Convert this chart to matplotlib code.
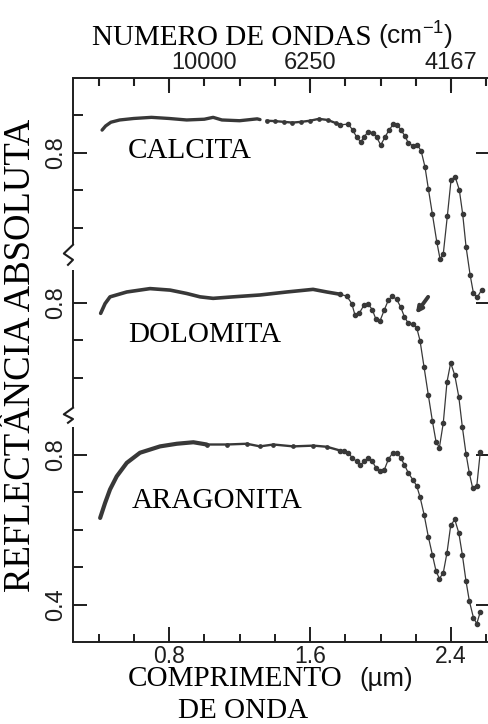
import matplotlib
matplotlib.use("Agg")
import matplotlib.pyplot as plt
from matplotlib.transforms import blended_transform_factory

plt.rcParams["mathtext.default"] = "regular"

# ---------------- data (wavelength in micrometres, absolute reflectance) ----------------
calcita_um = [0.42, 0.44, 0.47, 0.52, 0.60, 0.70, 0.80, 0.90, 1.00, 1.05, 1.10, 1.20, 1.30, 1.316,
              1.354, 1.40, 1.45, 1.50, 1.55, 1.60, 1.65, 1.70, 1.75, 1.77, 1.817, 1.842, 1.865,
              1.888, 1.906, 1.931, 1.956, 1.978, 2.001, 2.026, 2.048, 2.073, 2.095, 2.116, 2.139,
              2.158, 2.186, 2.209, 2.230, 2.252, 2.271, 2.294, 2.319, 2.338, 2.356, 2.379, 2.400,
              2.423, 2.447, 2.466, 2.485, 2.508, 2.527, 2.549, 2.574]
calcita_r = [0.861, 0.872, 0.882, 0.888, 0.892, 0.895, 0.892, 0.888, 0.890, 0.895, 0.888, 0.886, 0.891, 0.889,
             0.886, 0.885, 0.883, 0.881, 0.883, 0.886, 0.891, 0.888, 0.879, 0.875, 0.877, 0.861, 0.842,
             0.829, 0.843, 0.857, 0.854, 0.842, 0.821, 0.843, 0.861, 0.877, 0.875, 0.861, 0.845,
             0.826, 0.819, 0.821, 0.806, 0.763, 0.705, 0.637, 0.563, 0.516, 0.531, 0.632, 0.728,
             0.737, 0.701, 0.637, 0.550, 0.475, 0.426, 0.415, 0.435]

dolomita_um = [0.412, 0.437, 0.465, 0.56, 0.692, 0.806, 0.90, 0.976, 1.05, 1.163, 1.316, 1.468, 1.617,
               1.695, 1.770, 1.808, 1.837, 1.855, 1.880, 1.906, 1.931, 1.953, 1.974, 1.997, 2.022,
               2.044, 2.067, 2.092, 2.115, 2.135, 2.158, 2.183, 2.205, 2.224, 2.247, 2.271, 2.294,
               2.315, 2.334, 2.356, 2.377, 2.398, 2.421, 2.444, 2.464, 2.485, 2.504, 2.523, 2.546, 2.566]
dolomita_r = [0.772, 0.798, 0.816, 0.829, 0.838, 0.834, 0.825, 0.816, 0.812, 0.816, 0.821, 0.829, 0.836,
              0.829, 0.823, 0.818, 0.798, 0.767, 0.773, 0.794, 0.796, 0.782, 0.756, 0.752, 0.782,
              0.807, 0.818, 0.809, 0.788, 0.763, 0.745, 0.743, 0.734, 0.699, 0.628, 0.554, 0.485,
              0.429, 0.414, 0.480, 0.589, 0.640, 0.607, 0.549, 0.469, 0.397, 0.345, 0.305, 0.311, 0.403]

aragonita_um = [0.409, 0.437, 0.465, 0.503, 0.56, 0.635, 0.749, 0.844, 0.938, 1.014, 1.127, 1.241, 1.316,
                1.392, 1.505, 1.619, 1.695, 1.770, 1.793, 1.817, 1.840, 1.865, 1.884, 1.906, 1.931,
                1.953, 1.974, 1.997, 2.020, 2.044, 2.069, 2.092, 2.115, 2.135, 2.158, 2.183, 2.205,
                2.224, 2.247, 2.271, 2.294, 2.315, 2.334, 2.356, 2.377, 2.398, 2.421, 2.444, 2.464,
                2.485, 2.504, 2.527, 2.546, 2.565]
aragonita_r = [0.631, 0.671, 0.707, 0.742, 0.778, 0.805, 0.822, 0.829, 0.833, 0.827, 0.827, 0.829, 0.822,
               0.827, 0.822, 0.824, 0.821, 0.811, 0.811, 0.805, 0.791, 0.782, 0.771, 0.782, 0.791,
               0.782, 0.765, 0.755, 0.758, 0.787, 0.805, 0.805, 0.791, 0.773, 0.751, 0.733, 0.717,
               0.687, 0.640, 0.581, 0.533, 0.489, 0.469, 0.485, 0.538, 0.611, 0.627, 0.591, 0.533,
               0.462, 0.409, 0.365, 0.349, 0.379]

minerals = ["CALCITA", "DOLOMITA", "ARAGONITA"]
offsets = [0.805, 0.405, 0.0]             # vertical shift of each stacked spectrum
panel_ticks = [[0.6, 0.7, 0.8, 0.9], [0.6, 0.7, 0.8], [0.4, 0.5, 0.6, 0.7, 0.8]]
panel_labels = [{0.8: "0.8"}, {0.8: "0.8"}, {0.4: "0.4", 0.8: "0.8"}]
x_major = [0.8, 1.6, 2.4]
x_minor = [0.4, 0.6, 1.0, 1.2, 1.4, 1.8, 2.0, 2.2, 2.6]
wavenumbers = [10000, 6250, 4167]         # cm^-1
arrow_um = (2.27, 2.20)                   # dolomita arrow tail/head (x)
arrow_r = (0.816, 0.771)                  # dolomita arrow tail/head (y)

# ---------------- figure ----------------
W, H = 488, 724
fig = plt.figure(figsize=(W / 100, H / 100), dpi=100)
fig.patch.set_facecolor("white")
ax = fig.add_axes([73 / W, 1 - 642 / H, 417 / W, 564 / H])
ax.set_xlim(0.255, 2.621)
ax.set_ylim(0.30, 1.805)

ink = "#383838"
axc = "#1e1e1e"
serif = "Liberation Serif"
sans = "Liberation Sans"

series = [(calcita_um, calcita_r), (dolomita_um, dolomita_r), (aragonita_um, aragonita_r)]
thick_end = [1.32, 1.80, 1.02]     # dense scan region (drawn as a heavy trace)
medium = [(1.35, 1.78), None, (1.00, 1.78)]
dots_start = [1.76, 1.76, 1.76]
thick_w = [2.4, 2.6, 3.0]

for (xs, ys), off, te, med, ds, tw in zip(series, offsets, thick_end, medium, dots_start, thick_w):
    yy = [v + off for v in ys]
    tx = [x for x in xs if x <= te]
    ty = [y for x, y in zip(xs, yy) if x <= te]
    ax.plot(tx, ty, color=ink, lw=tw, solid_capstyle="round", solid_joinstyle="round")
    if med is not None:
        mx = [x for x in xs if med[0] <= x <= med[1]]
        my = [y for x, y in zip(xs, yy) if med[0] <= x <= med[1]]
        ax.plot(mx, my, color=ink, lw=1.7, marker="o", ms=2.4)
    dx = [x for x in xs if x >= ds]
    dy = [y for x, y in zip(xs, yy) if x >= ds]
    ax.plot(dx, dy, color=ink, lw=0.9, marker="o", ms=3.0)

# arrow on dolomita
ax.annotate("", xy=(arrow_um[1], arrow_r[1] + offsets[1]),
            xytext=(arrow_um[0], arrow_r[0] + offsets[1]),
            arrowprops=dict(arrowstyle="-|>", color=ink, lw=2.8, mutation_scale=9,
                            shrinkA=0, shrinkB=0))

# ---------------- axes styling ----------------
for s in ["top", "bottom", "right"]:
    ax.spines[s].set_linewidth(1.4)
    ax.spines[s].set_color(axc)
ax.spines["left"].set_visible(False)

ax.set_xticks(x_major)
ax.set_xticks(x_minor, minor=True)
ax.set_xticklabels([f"{v:.1f}" for v in x_major], fontsize=16.5, family=sans, color=axc)
ax.tick_params(axis="x", which="both", direction="in", top=True, bottom=True, width=1.4,
               color=axc, pad=2, labeltop=False, labelbottom=True)
ax.tick_params(axis="x", which="major", length=11)
ax.tick_params(axis="x", which="minor", length=6)

# inward tick marks hanging from the top spine (mirror of the bottom ticks)
trx = blended_transform_factory(ax.transData, ax.transAxes)
ax.vlines(x_major, 1 - 13 / 564, 1, transform=trx, colors=axc, lw=1.5, clip_on=False, zorder=5)
ax.vlines(x_minor, 1 - 8 / 564, 1, transform=trx, colors=axc, lw=1.5, clip_on=False, zorder=5)

yt_major, yt_major_lab, yt_minor = [], [], []
for ticks, labs, off in zip(panel_ticks, panel_labels, offsets):
    for t in ticks:
        if t in labs:
            yt_major.append(t + off)
            yt_major_lab.append(labs[t])
        else:
            yt_minor.append(t + off)
ax.set_yticks(yt_major)
ax.set_yticklabels(yt_major_lab, fontsize=17, family=sans, color=axc, rotation=90,
                   va="center")
ax.set_yticks(yt_minor, minor=True)
ax.tick_params(axis="y", which="both", direction="in", left=True, right=True, width=1.4,
               color=axc, pad=4)
ax.tick_params(axis="y", which="major", length=10)
ax.tick_params(axis="y", which="minor", length=7, right=False)

# top wavenumber labels (at the wavelength equivalent of each wavenumber)
for w in wavenumbers:
    ax.text(1e4 / w, 1.026, str(w), transform=trx, fontsize=17, family=sans, color=axc,
            ha="center", va="center")

# broken left spine with break marks
tr = blended_transform_factory(ax.transAxes, ax.transData)
breaks = [(0.875, 0.925), (1.293, 1.36)]
segs = [(0.30, breaks[0][0]), (breaks[0][1], breaks[1][0]), (breaks[1][1], 1.805)]
for lo, hi in segs:
    ax.plot([0, 0], [lo, hi], transform=tr, color=axc, lw=1.4, clip_on=False,
            solid_capstyle="butt")
for lo, hi in breaks:
    span = hi - lo
    ax.plot([0, -0.022, 0, -0.012], [hi, hi - 0.35 * span, hi - 0.6 * span, hi - 0.8 * span],
            transform=tr, color=axc, lw=1.5, clip_on=False)

# ---------------- text ----------------
def fx(px):
    return px / W

def fy(py):
    return 1 - py / H

fig.text(fx(372), fy(45), "NUMERO DE ONDAS", family=serif, fontsize=21, ha="right",
         va="baseline", color="black")
fig.text(fx(378), fy(45), "(cm$^{-1}$)", family=sans, fontsize=19, ha="left",
         va="baseline", color="#111111")

fig.text(fx(21), fy(355), "REFLECTÂNCIA ABSOLUTA", family=serif, fontsize=26.5, rotation=90,
         ha="center", va="center", color="black")

fig.text(fx(128), fy(686), "COMPRIMENTO", family=serif, fontsize=21, ha="left", va="baseline",
         color="black")
fig.text(fx(359), fy(686), "(µm)", family=sans, fontsize=18.5, ha="left", va="baseline",
         color="#111111")
fig.text(fx(243), fy(718), "DE ONDA", family=serif, fontsize=21, ha="center", va="baseline",
         color="black")

label_pos = [(128, 151), (128, 335), (132, 501)]
for name, (px, py) in zip(minerals, label_pos):
    fig.text(fx(px), fy(py), name, family=serif, fontsize=21, ha="left", va="center",
             color="black")

fig.savefig("out.png", dpi=100, facecolor="white")
